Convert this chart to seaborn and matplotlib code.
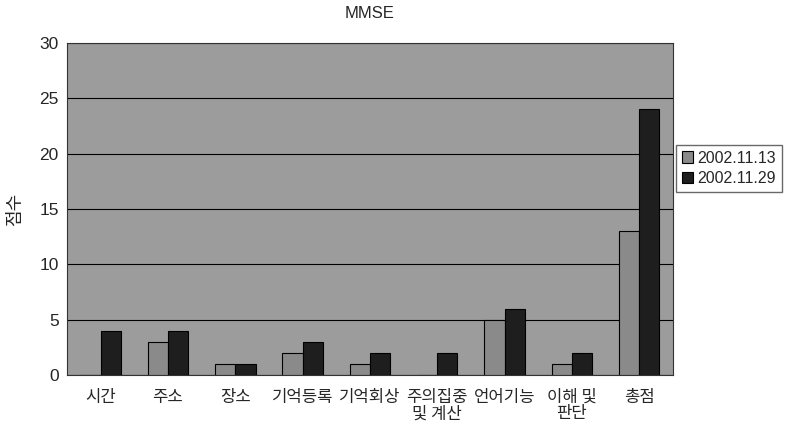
import matplotlib
matplotlib.use('Agg')
import matplotlib.pyplot as plt
import pandas as pd
import seaborn as sns

# Chart data
categories = ['시간', '주소', '장소', '기억등록', '기억회상', '주의집중\n및 계산', '언어기능', '이해 및\n판단', '총점']
series_names = ['2002.11.13', '2002.11.29']
scores_1113 = [0, 3, 1, 2, 1, 0, 5, 1, 13]
scores_1129 = [4, 4, 1, 3, 2, 2, 6, 2, 24]
y_ticks = [0, 5, 10, 15, 20, 25, 30]

df = pd.DataFrame({
    'category': categories * 2,
    'date': [series_names[0]] * len(categories) + [series_names[1]] * len(categories),
    'score': scores_1113 + scores_1129,
})

sns.set_style('white')
plt.rcParams['font.family'] = ['Liberation Sans', 'Noto Sans CJK KR', 'DejaVu Sans']

fig = plt.figure(figsize=(7.91, 4.22), dpi=100)
ax = fig.add_axes([0.0847, 0.1114, 0.766, 0.787])
ax.set_facecolor('#9c9c9c')

sns.barplot(data=df, x='category', y='score', hue='date', order=categories,
            palette=['#8a8a8a', '#1e1e1e'], edgecolor='black', linewidth=0.8,
            width=0.6, ax=ax, zorder=3)

ax.set_ylim(0, 30)
ax.set_yticks(y_ticks)
ax.yaxis.grid(True, color='black', linewidth=0.8)
ax.set_axisbelow(True)
for s in ax.spines.values():
    s.set_color('#333333')
    s.set_linewidth(0.8)
ax.tick_params(axis='both', length=0)
ax.tick_params(axis='y', labelsize=12.5, pad=6)
ax.set_xticks(range(len(categories)))
ax.set_xticklabels(categories, fontsize=12, family=['Noto Sans CJK KR', 'DejaVu Sans'],
                   linespacing=0.95)
ax.tick_params(axis='x', pad=10)
ax.set_xlabel('')
ax.set_ylabel('점수', fontsize=13, family=['Noto Sans CJK KR', 'DejaVu Sans'], labelpad=11)
ax.set_title('MMSE', fontsize=12, pad=18)

ax.legend(loc='upper left', bbox_to_anchor=(676 / 791, 1 - 145 / 422),
          bbox_transform=fig.transFigure, frameon=True, fancybox=False,
          edgecolor='#444444', fontsize=11.5, handlelength=0.7, handleheight=0.7,
          handletextpad=0.3, borderpad=0.35, labelspacing=0.35, borderaxespad=0)

fig.savefig('out.png', dpi=100)
